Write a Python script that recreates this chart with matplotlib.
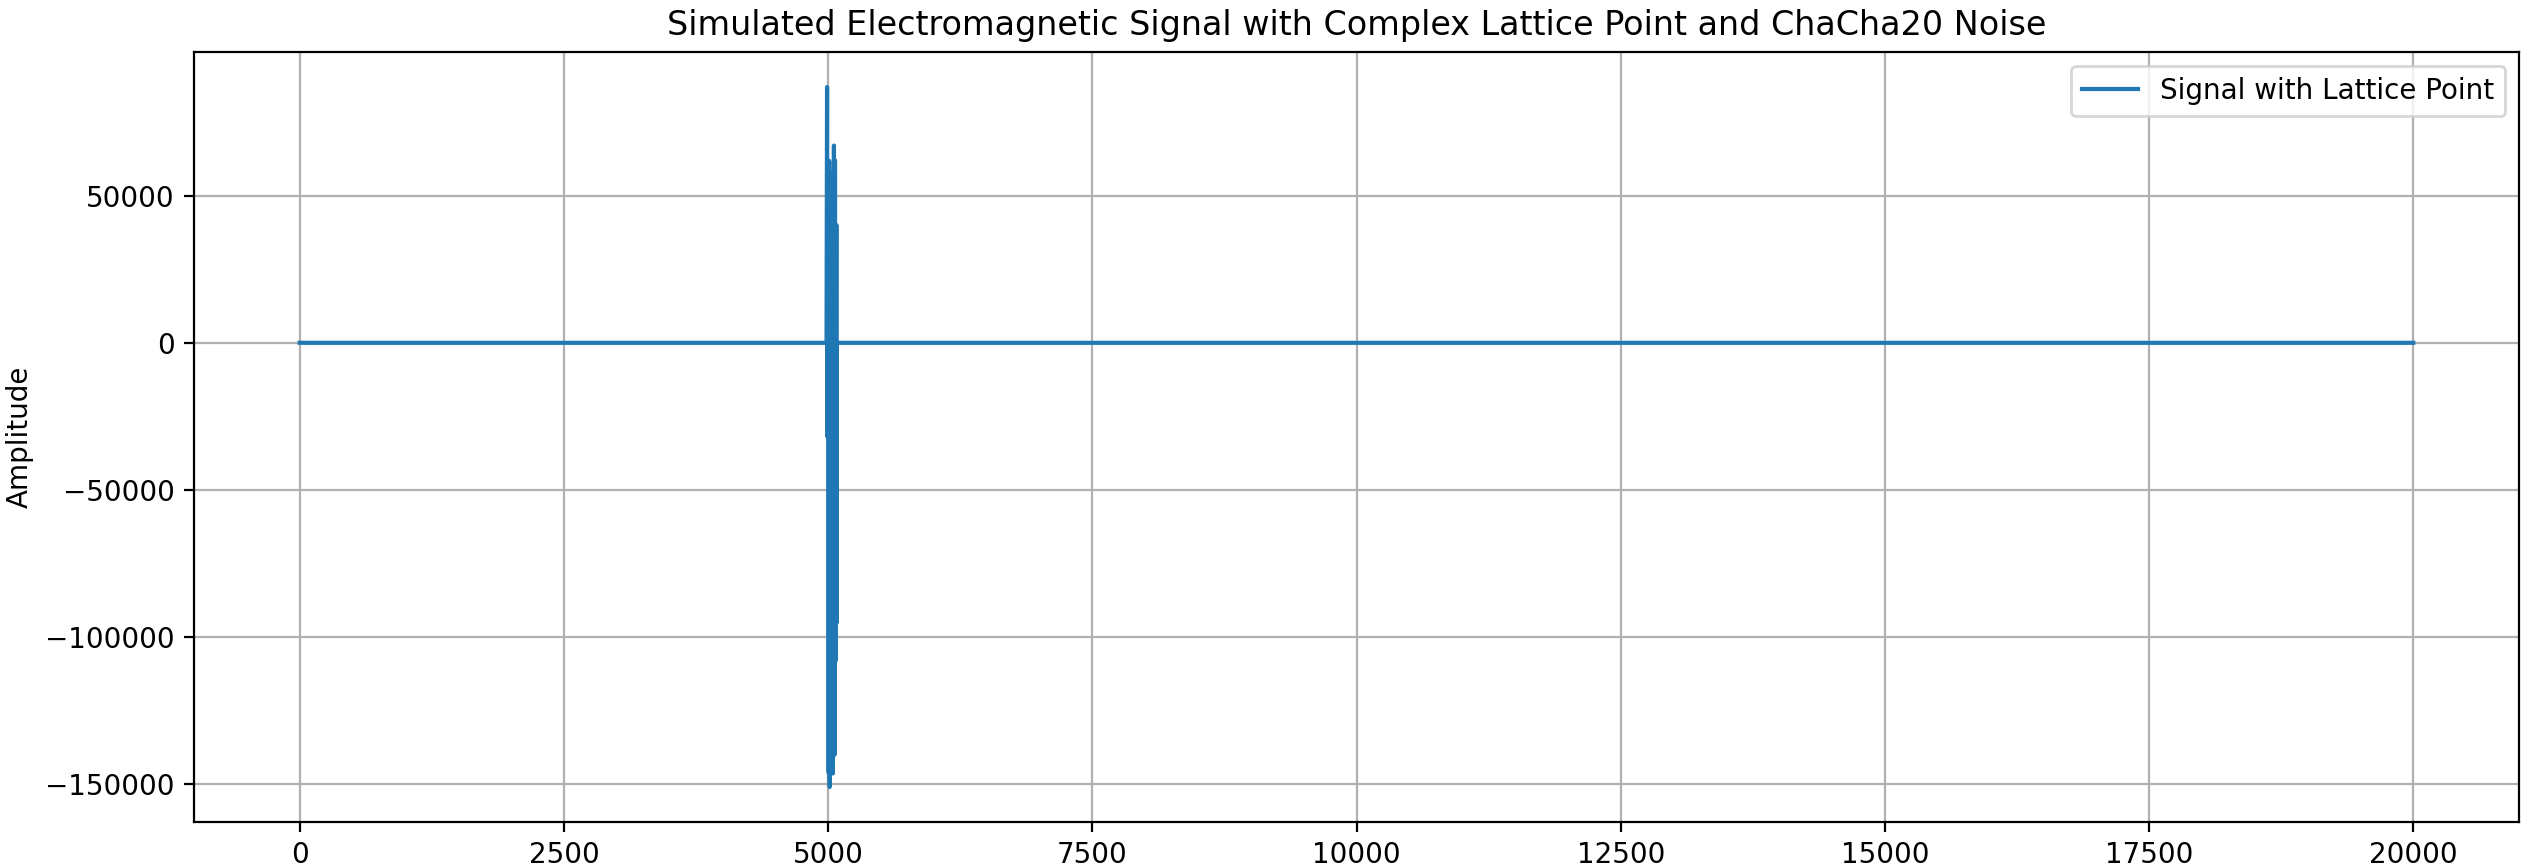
import numpy as np
import matplotlib.pyplot as plt

# baseline samples (flat, noise invisible at this scale)
base_start = 0
base_end = 19999

# burst around sample 5000
spike_x = [4985, 4990, 4993, 5000, 5005, 5010, 5015, 5020, 5030, 5040, 5045,
           5055, 5060, 5065, 5072, 5078, 5080, 5082]
spike_y = [0, 86900, -31900, 60000, -146000, 61800, -150900, 55000, -145000,
           58000, -146300, 67000, -140000, 62000, -108000, 40000, -95200, 0]

x = np.array([base_start] + spike_x + [base_end])
y = np.array([0] + spike_y + [0])

W, H, DPI = 2526, 868, 200
fig = plt.figure(figsize=(W / DPI, H / DPI), dpi=DPI)
ax = fig.add_axes([194 / W, 1 - 822 / H, (2519 - 194) / W, (822 - 52) / H])

ax.plot(x, y, label='Signal with Lattice Point')
ax.set_title('Simulated Electromagnetic Signal with Complex Lattice Point and ChaCha20 Noise')
ax.set_ylabel('Amplitude')
ax.legend(loc='upper right')
ax.grid(True)

fig.savefig('out.png', dpi=DPI)
